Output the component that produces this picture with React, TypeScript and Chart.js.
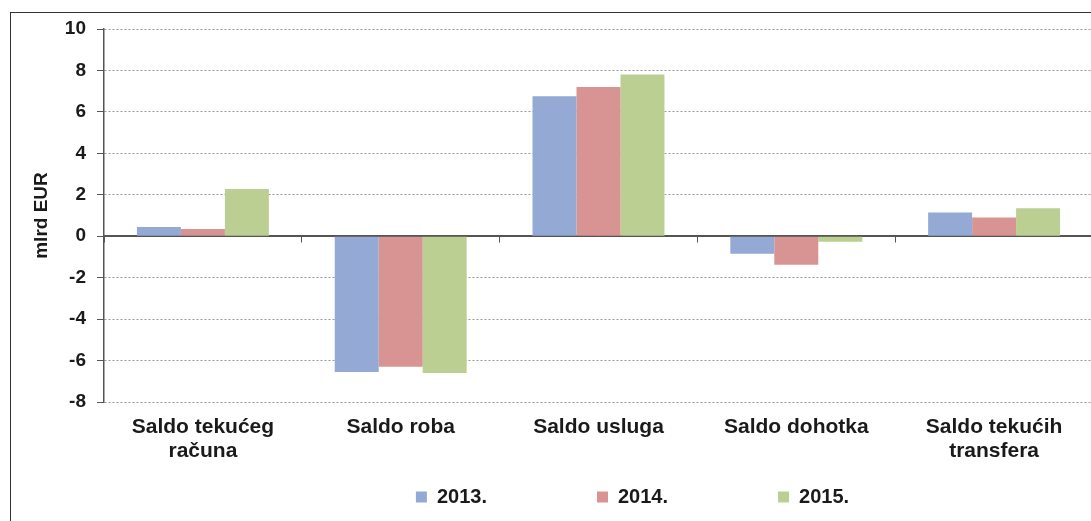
import React, { useEffect, useRef } from 'react';
import { Chart, registerables } from 'chart.js';

Chart.register(...registerables);

const categories: string[][] = [
  ['Saldo tekućeg', 'računa'],
  ['Saldo roba'],
  ['Saldo usluga'],
  ['Saldo dohotka'],
  ['Saldo tekućih', 'transfera'],
];
const seriesNames = ['2013.', '2014.', '2015.'];
const values2013 = [0.45, -6.55, 6.75, -0.85, 1.15];
const values2014 = [0.35, -6.3, 7.2, -1.38, 0.9];
const values2015 = [2.28, -6.6, 7.8, -0.27, 1.35];
const seriesColors = ['#94a9d4', '#d79493', '#bbcf93'];
const yMin = -8;
const yMax = 10;
const yStep = 2;
const yTitle = 'mlrd EUR';

const FONT = "'Liberation Sans', Arial, sans-serif";
const TEXT = '#1a1a1a';
const CANVAS_W = 1265;
const CANVAS_H = 521;

export default function App() {
  const ref = useRef<HTMLCanvasElement | null>(null);

  useEffect(() => {
    if (!ref.current) return;
    const allValues = [values2013, values2014, values2015];
    const chart = new Chart(ref.current, {
      type: 'bar',
      data: {
        labels: categories,
        datasets: seriesNames.map((name, i) => ({
          label: name,
          data: allValues[i],
          backgroundColor: seriesColors[i],
          borderWidth: 0,
          categoryPercentage: 0.667,
          barPercentage: 1.0,
          xAxisID: 'x',
          yAxisID: 'y',
        })),
      },
      options: {
        responsive: false,
        animation: false,
        layout: { padding: { top: 29, left: 0, right: 0, bottom: 4 } },
        plugins: {
          tooltip: { enabled: false },
          legend: {
            position: 'bottom',
            labels: {
              boxWidth: 11,
              boxHeight: 11,
              padding: 10,
              color: TEXT,
              font: { family: FONT, size: 20, weight: 'bold' },
              generateLabels: (c: any) => {
                const items = Chart.defaults.plugins.legend.labels.generateLabels(c);
                return items.map((it: any, i: number) => ({
                  ...it,
                  lineWidth: 0,
                  text: i < items.length - 1 ? it.text + ' '.repeat(18) : it.text,
                }));
              },
            },
          },
        },
        scales: {
          x: {
            type: 'category',
            axis: 'x',
            position: 'bottom',
            offset: true,
            grid: { display: false, drawTicks: false, offset: true },
            border: { display: false },
            ticks: {
              padding: 13,
              color: TEXT,
              maxRotation: 0,
              autoSkip: false,
              font: { family: FONT, size: 21, weight: 'bold', lineHeight: 1.15 },
            },
            afterFit: (s: any) => {
              s.height = 75;
            },
          },
          xz: {
            type: 'category',
            axis: 'x',
            position: { y: 0 },
            offset: true,
            z: 1,
            grid: {
              display: true,
              drawOnChartArea: false,
              drawTicks: true,
              tickLength: 6,
              tickColor: '#555',
              offset: true,
            },
            border: { display: true, color: '#555', width: 1.5 },
            ticks: { display: false },
          },
          y: {
            type: 'linear',
            position: 'left',
            min: yMin,
            max: yMax,
            ticks: {
              stepSize: yStep,
              padding: 11,
              color: TEXT,
              font: { family: FONT, size: 19, weight: 'bold' },
            },
            grid: {
              color: (ctx: any) => (ctx.tick && ctx.tick.value === 0 ? '#555' : '#999'),
              lineWidth: 1,
              tickLength: 7,
              tickColor: '#555',
            },
            border: {
              display: true,
              color: '#555',
              width: 1.5,
              dash: (ctx: any) => (ctx.tick && ctx.tick.value !== 0 ? [2, 2] : []),
            },
            title: {
              display: true,
              text: yTitle,
              color: TEXT,
              font: { family: FONT, size: 19, weight: 'bold' },
              padding: { top: 30, bottom: 0 },
            },
            afterFit: (s: any) => {
              s.width = 104;
            },
          },
          y2: {
            type: 'linear',
            axis: 'y',
            position: 'right',
            display: true,
            grid: { display: false, drawTicks: false },
            border: { display: false },
            ticks: { display: false },
            afterFit: (s: any) => {
              s.width = 172;
            },
          },
        },
      } as any,
    });
    return () => chart.destroy();
  }, []);

  return (
    <div
      style={{
        position: 'absolute',
        left: 0,
        top: 0,
        width: 1091,
        height: 521,
        overflow: 'hidden',
        background: '#fff',
      }}
    >
      <div
        style={{
          position: 'absolute',
          left: 10,
          top: 12,
          width: 1300,
          height: 700,
          border: '1px solid #333',
        }}
      />
      <canvas
        ref={ref}
        width={CANVAS_W}
        height={CANVAS_H}
        style={{ position: 'absolute', left: 0, top: 0, display: 'block' }}
      />
    </div>
  );
}
